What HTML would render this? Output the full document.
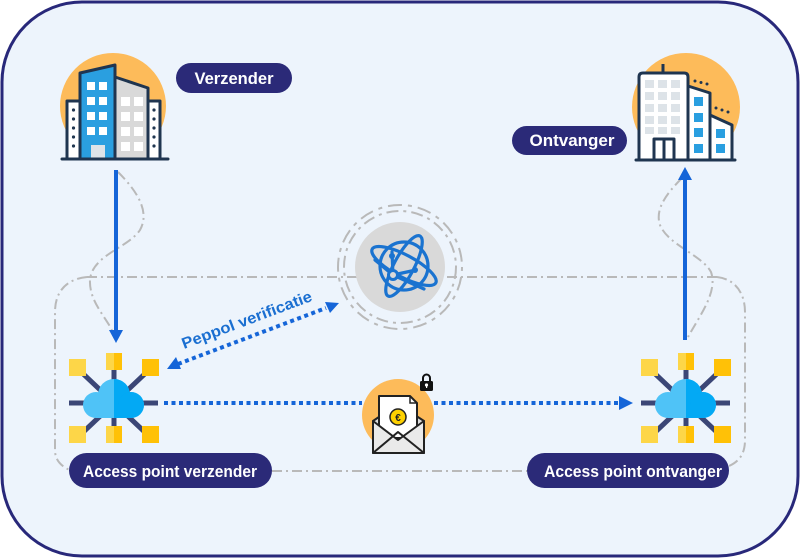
<!DOCTYPE html>
<html><head><meta charset="utf-8"><style>
html,body{margin:0;padding:0;background:#fff;}
svg{display:block;}
text{font-family:"Liberation Sans",sans-serif;font-weight:bold;}
</style></head><body>
<svg width="800" height="558" viewBox="0 0 800 558" xmlns="http://www.w3.org/2000/svg">
<defs>
<clipPath id="rh"><rect x="0" y="-40" width="50" height="80"/></clipPath>
<g id="hub">
  <g stroke="#3b4676" stroke-width="5" stroke-linecap="butt">
    <line x1="-45" y1="0" x2="44" y2="0"/>
    <line x1="0" y1="-40" x2="0" y2="32"/>
    <line x1="-36" y1="-34" x2="36" y2="34"/>
    <line x1="36" y1="-34" x2="-36" y2="34"/>
  </g>
  <rect x="-45" y="-44" width="17" height="17" fill="#fdd648"/>
  <rect x="28" y="-44" width="17" height="17" fill="#ffc107"/>
  <rect x="-45" y="23" width="17" height="17" fill="#fdd648"/>
  <rect x="28" y="23" width="17" height="17" fill="#ffc107"/>
  <rect x="-8" y="-50" width="8" height="17" fill="#fdd648"/>
  <rect x="0" y="-50" width="8" height="17" fill="#ffc107"/>
  <rect x="-8" y="23" width="8" height="17" fill="#fdd648"/>
  <rect x="0" y="23" width="8" height="17" fill="#ffc107"/>
  <g fill="#4fc3f7">
    <circle cx="-18" cy="2" r="13"/><circle cx="0" cy="-8" r="16"/><circle cx="17" cy="2" r="13"/>
    <rect x="-18" y="2" width="35" height="13"/>
  </g>
  <g fill="#03a9f4" clip-path="url(#rh)">
    <circle cx="-18" cy="2" r="13"/><circle cx="0" cy="-8" r="16"/><circle cx="17" cy="2" r="13"/>
    <rect x="-18" y="2" width="35" height="13"/>
  </g>
</g>
</defs>

<!-- frame -->
<rect x="2" y="2" width="796" height="554" rx="80" ry="80" fill="#edf4fc" stroke="#28287a" stroke-width="3"/>

<!-- gray dash-dot paths -->
<g fill="none" stroke="#b9b9b9" stroke-width="2" stroke-dasharray="10 4 2 4">
  <path d="M87,277 L717,277"/>
  <path d="M87,277 C66,279 55,292 55,312 L55,450 C55,461 62,467 72,471"/>
  <path d="M717,277 C735,279 745,293 745,312 L745,440 C745,455 738,462 729,466"/>
  <path d="M272,471 L527,471"/>
  <path d="M118,172 C138,192 150,212 140,230 C128,248 92,255 90,280 C89,300 104,315 112,330"/>
  <path d="M682,178 C665,195 655,210 660,225 C668,245 702,255 711,272 C718,292 700,315 688,337"/>
  <circle cx="400" cy="267" r="56" stroke-dasharray="12 5 3 5"/>
  <circle cx="400" cy="267" r="62" stroke-dasharray="4 6 14 6"/>
</g>

<!-- sender building -->
<circle cx="113" cy="106" r="53" fill="#fdbb5a"/>
<g stroke="#1f3550" stroke-width="3" stroke-linejoin="round">
  <rect x="67" y="101" width="13" height="58" fill="#fff"/>
  <rect x="148" y="101" width="12" height="58" fill="#fff"/>
  <polygon points="115,77 148,88 148,159 115,159" fill="#d9d9d9"/>
  <polygon points="80,73 115,65 115,159 80,159" fill="#2a9fe0"/>
</g>
<g fill="#1f3550">
  <circle cx="73.5" cy="110" r="1.6"/><circle cx="73.5" cy="119" r="1.6"/><circle cx="73.5" cy="128" r="1.6"/><circle cx="73.5" cy="137" r="1.6"/><circle cx="73.5" cy="146" r="1.6"/>
  <circle cx="154" cy="110" r="1.6"/><circle cx="154" cy="119" r="1.6"/><circle cx="154" cy="128" r="1.6"/><circle cx="154" cy="137" r="1.6"/><circle cx="154" cy="146" r="1.6"/>
</g>
<g fill="#fff">
  <rect x="87" y="82" width="8" height="8"/><rect x="99" y="82" width="8" height="8"/>
  <rect x="87" y="97" width="8" height="8"/><rect x="99" y="97" width="8" height="8"/>
  <rect x="87" y="112" width="8" height="8"/><rect x="99" y="112" width="8" height="8"/>
  <rect x="87" y="127" width="8" height="8"/><rect x="99" y="127" width="8" height="8"/>
  <rect x="121" y="97" width="9" height="9"/><rect x="134" y="97" width="9" height="9"/>
  <rect x="121" y="112" width="9" height="9"/><rect x="134" y="112" width="9" height="9"/>
  <rect x="121" y="127" width="9" height="9"/><rect x="134" y="127" width="9" height="9"/>
  <rect x="121" y="142" width="9" height="9"/><rect x="134" y="142" width="9" height="9"/>
</g>
<rect x="91" y="145" width="14" height="13" fill="#dde3e8"/>
<line x1="62" y1="159" x2="168" y2="159" stroke="#1f3550" stroke-width="3" stroke-linecap="round"/>

<!-- receiver building -->
<circle cx="686" cy="107" r="54" fill="#fdbb5a"/>
<g stroke="#1f3550" stroke-width="3" stroke-linejoin="round">
  <line x1="663" y1="64" x2="663" y2="73"/>
  <polygon points="710,115 732,125 732,160 710,160" fill="#fff"/>
  <polygon points="688,86 710,93 710,160 688,160" fill="#fff"/>
  <path d="M639,160 L639,77 Q639,73 643,73 L684,73 Q688,73 688,77 L688,160 Z" fill="#fff"/>
  <rect x="654" y="139" width="20" height="21" fill="#fff"/>
  <line x1="664" y1="139" x2="664" y2="160"/>
</g>
<g fill="#dde3e8">
  <rect x="645" y="80" width="9" height="8"/><rect x="658" y="80" width="9" height="8"/><rect x="671" y="80" width="9" height="8"/>
  <rect x="645" y="92" width="9" height="8"/><rect x="658" y="92" width="9" height="8"/><rect x="671" y="92" width="9" height="8"/>
  <rect x="645" y="104" width="9" height="8"/><rect x="658" y="104" width="9" height="8"/><rect x="671" y="104" width="9" height="8"/>
  <rect x="645" y="116" width="9" height="8"/><rect x="658" y="116" width="9" height="8"/><rect x="671" y="116" width="9" height="8"/>
  <rect x="645" y="127" width="9" height="7"/><rect x="658" y="127" width="9" height="7"/><rect x="671" y="127" width="9" height="7"/>
</g>
<g fill="#2a9fe0">
  <rect x="694" y="97" width="9" height="9"/><rect x="694" y="113" width="9" height="9"/>
  <rect x="694" y="128" width="9" height="9"/><rect x="694" y="144" width="9" height="9"/>
  <rect x="716" y="129" width="9" height="9"/><rect x="716" y="144" width="9" height="9"/>
</g>
<g fill="#1f3550">
  <circle cx="695" cy="81" r="1.5"/><circle cx="701" cy="82.5" r="1.5"/><circle cx="707" cy="84" r="1.5"/>
  <circle cx="716" cy="108" r="1.5"/><circle cx="722" cy="110" r="1.5"/><circle cx="728" cy="112" r="1.5"/>
</g>
<line x1="636" y1="160" x2="735" y2="160" stroke="#1f3550" stroke-width="3" stroke-linecap="round"/>

<!-- pills top -->
<rect x="176" y="63" width="116" height="30" rx="15" fill="#2b2a78"/>
<text x="234" y="84" font-size="16.5" fill="#fff" text-anchor="middle" textLength="79" lengthAdjust="spacingAndGlyphs">Verzender</text>
<rect x="512" y="126" width="115" height="29" rx="14.5" fill="#2b2a78"/>
<text x="572" y="146" font-size="16.5" fill="#fff" text-anchor="middle" textLength="85" lengthAdjust="spacingAndGlyphs">Ontvanger</text>

<!-- vertical arrows -->
<line x1="116" y1="170" x2="116" y2="332" stroke="#1565d8" stroke-width="4"/>
<polygon points="109,330 123,330 116,343" fill="#1565d8"/>
<line x1="685" y1="178" x2="685" y2="340" stroke="#1565d8" stroke-width="4"/>
<polygon points="678,180 692,180 685,167" fill="#1565d8"/>

<!-- globe -->
<circle cx="400" cy="267" r="45" fill="#d9d9d9"/>
<g fill="none" stroke="#1a73d0" stroke-width="3.2" stroke-linecap="round" stroke-linejoin="round">
  <circle cx="404" cy="266" r="24"/>
  <ellipse cx="404" cy="266" rx="36" ry="11" transform="rotate(28 404 266)"/>
  <ellipse cx="404" cy="266" rx="34" ry="10" transform="rotate(-62 404 266)"/>
  <line x1="393" y1="275" x2="392" y2="252"/>
  <line x1="393" y1="275" x2="416" y2="270"/>
  <line x1="393" y1="275" x2="424" y2="289"/>
  <line x1="393" y1="275" x2="375" y2="260"/>
</g>
<circle cx="393" cy="275" r="4.5" fill="#d9d9d9" stroke="#1a73d0" stroke-width="3"/>
<circle cx="392" cy="256" r="3" fill="#1a73d0"/>
<circle cx="415" cy="270" r="3" fill="#1a73d0"/>

<!-- peppol verification -->
<g fill="#1565d8">
  <line x1="178" y1="364" x2="326" y2="308" stroke="#1565d8" stroke-width="4" stroke-dasharray="4 3.5"/>
  <polygon points="167,369 176,357 181,369"/>
  <polygon points="339,303 325,302 330,313"/>
</g>
<text x="184" y="349" font-size="15.5" fill="#1b6fd1" transform="rotate(-20.6 184 349)" textLength="138" lengthAdjust="spacingAndGlyphs">Peppol verificatie</text>

<!-- horizontal dotted -->
<line x1="164" y1="403" x2="362" y2="403" stroke="#1565d8" stroke-width="4" stroke-dasharray="4 3.5"/>
<line x1="434" y1="403" x2="620" y2="403" stroke="#1565d8" stroke-width="4" stroke-dasharray="4 3.5"/>
<polygon points="619,396 633,403 619,410" fill="#1565d8"/>

<!-- envelope -->
<circle cx="398" cy="415" r="36" fill="#fdbb5a"/>
<polygon points="373,421 398,404 424,421 424,453 373,453" fill="#dcdcdc" stroke="#222" stroke-width="2" stroke-linejoin="round"/>
<path d="M379,396 L410,396 L417,403 L417,438 L379,438 Z" fill="#fff" stroke="#222" stroke-width="2" stroke-linejoin="round"/>
<path d="M410,396 L410,403 L417,403" fill="none" stroke="#222" stroke-width="1.5"/>
<circle cx="398" cy="417" r="8" fill="#fdd000" stroke="#222" stroke-width="1.5"/>
<text x="398" y="421" font-size="10" fill="#222" text-anchor="middle">€</text>
<polygon points="373,421 398,440 424,421 424,453 373,453" fill="#eaeaea" stroke="#222" stroke-width="2" stroke-linejoin="round"/>
<polyline points="373,453 398,432 424,453" fill="none" stroke="#222" stroke-width="2" stroke-linejoin="round"/>
<path d="M423,382 L423,378 A3.5,3.5 0 0 1 430,378 L430,382" fill="none" stroke="#111" stroke-width="2"/>
<rect x="420" y="381" width="13" height="10" rx="1.5" fill="#111"/>
<circle cx="426.5" cy="385" r="1.6" fill="#fff"/>
<rect x="426" y="385" width="1.2" height="3" fill="#fff"/>

<!-- hubs -->
<use href="#hub" x="114" y="403"/>
<use href="#hub" x="686" y="403"/>

<!-- bottom pills -->
<rect x="69" y="453" width="203" height="35" rx="17.5" fill="#2b2a78"/>
<text x="170" y="477" font-size="17" fill="#fff" text-anchor="middle" textLength="174" lengthAdjust="spacingAndGlyphs">Access point verzender</text>
<rect x="527" y="453" width="202" height="35" rx="17.5" fill="#2b2a78"/>
<text x="633" y="477" font-size="17" fill="#fff" text-anchor="middle" textLength="178" lengthAdjust="spacingAndGlyphs">Access point ontvanger</text>
</svg>
</body></html>
